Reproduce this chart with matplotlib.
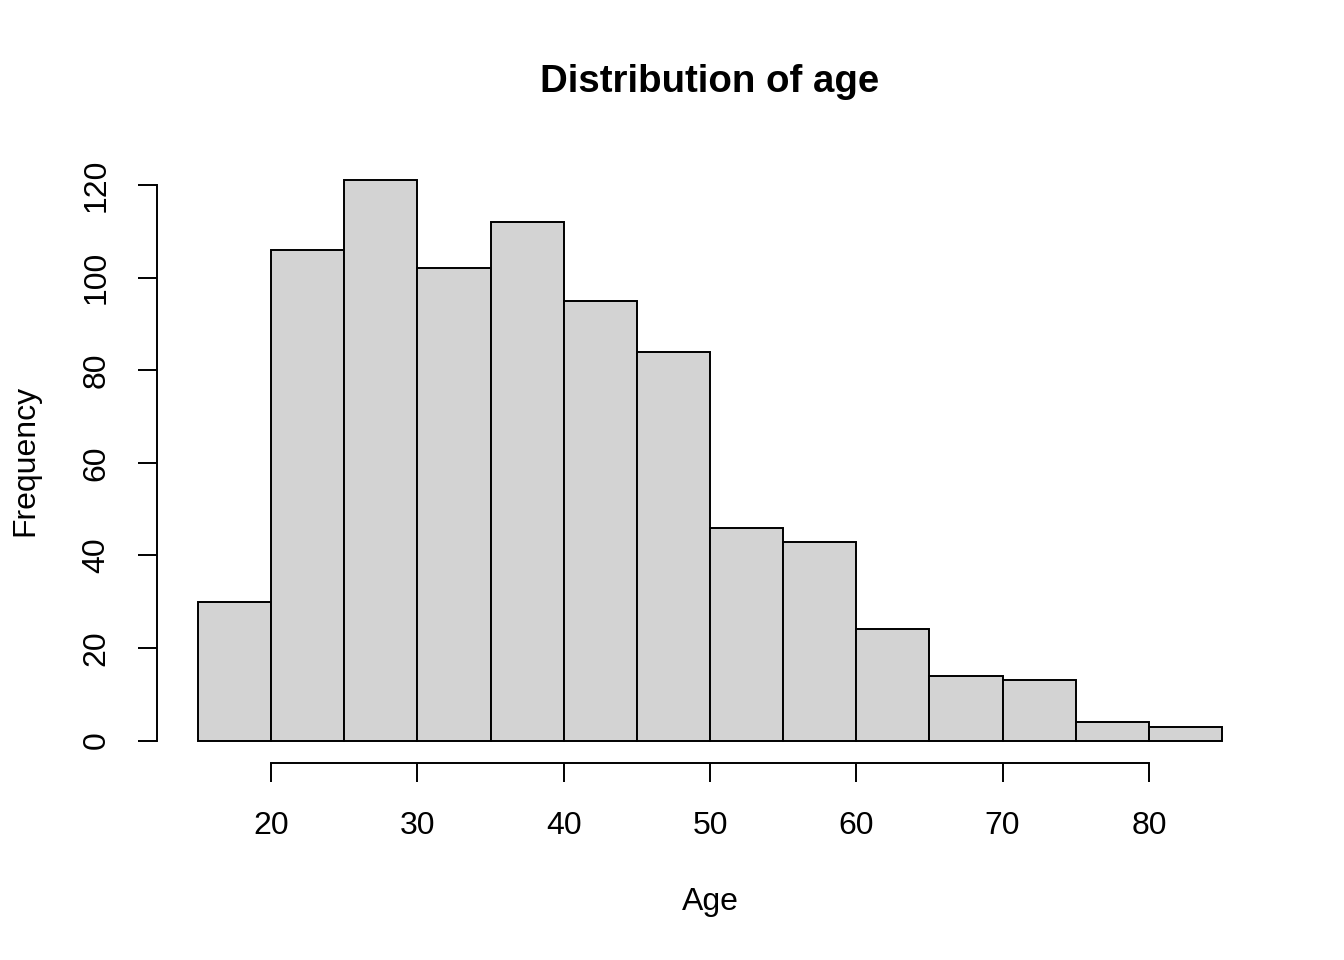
import matplotlib
matplotlib.use('Agg')
import matplotlib.pyplot as plt
import numpy as np

plt.rcParams['font.family'] = ['Liberation Sans', 'DejaVu Sans']

edges = [15, 20, 25, 30, 35, 40, 45, 50, 55, 60, 65, 70, 75, 80, 85]
counts = [30, 106, 121, 102, 112, 95, 84, 46, 43, 24, 14, 13, 4, 3]
xticks = [20, 30, 40, 50, 60, 70, 80]
yticks = [0, 20, 40, 60, 80, 100, 120]

fig = plt.figure(figsize=(13.44, 9.6), dpi=100)
ax = fig.add_axes([157/1344, 1-763/960, (1263-157)/1344, (763-158)/960])

left = np.array(edges[:-1])
widths = np.diff(edges)
ax.bar(left, counts, width=widths, align='edge', color='#d3d3d3',
       edgecolor='black', linewidth=1.4)

span = edges[-1] - edges[0]
ax.set_xlim(edges[0] - 0.04*span, edges[-1] + 0.04*span)
ax.set_ylim(-0.04*max(counts), max(counts)*1.04)

for s in ['top', 'right']:
    ax.spines[s].set_visible(False)
ax.spines['left'].set_bounds(0, 120)
ax.spines['bottom'].set_bounds(20, 80)
for s in ['left', 'bottom']:
    ax.spines[s].set_linewidth(1.4)

ax.set_xticks(xticks)
ax.set_yticks(yticks)
ax.set_yticklabels([str(v) for v in yticks], rotation=90, va='center')
ax.tick_params(direction='out', length=13.7, width=1.4, labelsize=23)
ax.tick_params(axis='x', pad=21)
ax.tick_params(axis='y', pad=19)

fig.text(710/1344, 1-82/960, 'Distribution of age', ha='center', va='center',
         fontsize=27.6, fontweight='bold')
fig.text(710/1344, 1-902/960, 'Age', ha='center', va='center', fontsize=23)
fig.text(25/1344, 1-460/960, 'Frequency', ha='center', va='center',
         fontsize=23, rotation=90)

fig.savefig('out.png', dpi=100)
